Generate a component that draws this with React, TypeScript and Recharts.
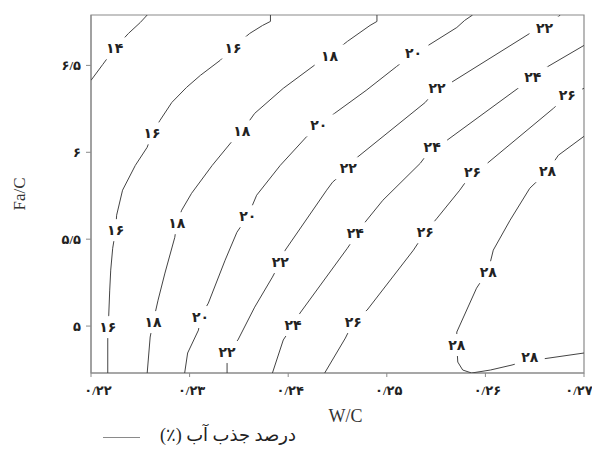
import React from 'react';
import { ScatterChart, Scatter, XAxis, YAxis, ReferenceArea, Legend } from 'recharts';

// contour lines of water absorption (%), points as [W/C, Fa/C]
const c14 = [[0.22, 6.414], [0.2212, 6.506], [0.2224, 6.598], [0.2238, 6.684], [0.225, 6.747], [0.2257, 6.79]];
const c16 = [
  [0.2382, 6.79], [0.2382, 6.753], [0.2374, 6.73], [0.2361, 6.684], [0.2344, 6.603], [0.2331, 6.529],
  [0.2311, 6.443], [0.2297, 6.374], [0.2282, 6.287], [0.227, 6.184], [0.2262, 6.109], [0.2257, 6.029],
  [0.2245, 5.925], [0.2232, 5.782], [0.2226, 5.638], [0.2225, 5.552], [0.2222, 5.448], [0.222, 5.322],
  [0.2219, 5.207], [0.2218, 5.063], [0.2217, 4.994], [0.2217, 4.92], [0.2217, 4.73],
];
const c18 = [
  [0.249, 6.79], [0.249, 6.753], [0.2483, 6.73], [0.246, 6.638], [0.2442, 6.557], [0.2429, 6.511],
  [0.2395, 6.368], [0.2366, 6.224], [0.2353, 6.121], [0.2343, 6.063], [0.2323, 5.925], [0.2302, 5.764],
  [0.2292, 5.667], [0.2287, 5.592], [0.2285, 5.511], [0.2275, 5.305], [0.2268, 5.149], [0.2263, 5.023],
  [0.226, 4.937], [0.2257, 4.73],
];
const c20 = [
  [0.2587, 6.79], [0.2579, 6.759], [0.2571, 6.718], [0.2542, 6.615], [0.2527, 6.569], [0.251, 6.494],
  [0.2479, 6.356], [0.2447, 6.224], [0.2431, 6.155], [0.2419, 6.092], [0.2392, 5.925], [0.2368, 5.753],
  [0.2359, 5.632], [0.2348, 5.54], [0.2336, 5.379], [0.2319, 5.132], [0.2311, 5.052], [0.2309, 4.977],
  [0.2298, 4.845], [0.2295, 4.73],
];
const c22 = [
  [0.2676, 6.79], [0.266, 6.718], [0.2645, 6.684], [0.2564, 6.397], [0.2551, 6.368], [0.2539, 6.287],
  [0.247, 5.971], [0.2461, 5.908], [0.2445, 5.828], [0.2439, 5.782], [0.2397, 5.437], [0.2392, 5.368],
  [0.2384, 5.282], [0.2366, 5.109], [0.2349, 4.92], [0.2338, 4.851], [0.2338, 4.787], [0.2338, 4.73],
];
const c24 = [
  [0.27, 6.615], [0.2662, 6.489], [0.2648, 6.431], [0.2633, 6.368], [0.2561, 6.069], [0.2546, 6.029],
  [0.2534, 5.937], [0.2496, 5.724], [0.2478, 5.598], [0.246, 5.448], [0.2412, 5.075], [0.2405, 5.006],
  [0.2395, 4.92], [0.2384, 4.73],
];
const c26 = [
  [0.27, 6.368], [0.2683, 6.328], [0.2669, 6.253], [0.2602, 5.937], [0.2587, 5.885], [0.2574, 5.782],
  [0.2551, 5.621], [0.2539, 5.54], [0.2527, 5.437], [0.248, 5.092], [0.2466, 5.023], [0.2458, 4.931],
  [0.2437, 4.73],
];
const c28 = [
  [0.27, 6.092], [0.2674, 5.983], [0.2663, 5.891], [0.2645, 5.793], [0.2625, 5.609], [0.2608, 5.437],
  [0.2603, 5.322], [0.2591, 5.218], [0.2571, 4.966], [0.2571, 4.885], [0.2572, 4.793], [0.2577, 4.747],
  [0.2586, 4.73], [0.2605, 4.747], [0.2627, 4.776], [0.2645, 4.805], [0.2657, 4.81], [0.27, 4.845],
];

// inline labels: [W/C, Fa/C, level]
const contourLabels = [
  [0.2224, 6.598, 14],
  [0.2344, 6.603, 16], [0.2262, 6.109, 16], [0.2225, 5.552, 16], [0.2217, 4.994, 16],
  [0.2442, 6.557, 18], [0.2353, 6.121, 18], [0.2287, 5.592, 18], [0.2263, 5.023, 18],
  [0.2527, 6.569, 20], [0.2431, 6.155, 20], [0.2359, 5.632, 20], [0.2311, 5.052, 20],
  [0.266, 6.718, 22], [0.2551, 6.368, 22], [0.2461, 5.908, 22], [0.2392, 5.368, 22], [0.2338, 4.851, 22],
  [0.2648, 6.431, 24], [0.2546, 6.029, 24], [0.2468, 5.534, 24], [0.2405, 5.006, 24],
  [0.2683, 6.328, 26], [0.2587, 5.885, 26], [0.2539, 5.54, 26], [0.2466, 5.023, 26],
  [0.2663, 5.891, 28], [0.2603, 5.31, 28], [0.2571, 4.891, 28], [0.2645, 4.822, 28],
];

const xTicks = [0.22, 0.23, 0.24, 0.25, 0.26, 0.27];
const yTicks = [5, 5.5, 6, 6.5];

const faDigits = '۰۱۲۳۴۵۶۷۸۹';
const toFa = (v: number | string) =>
  String(v).replace('.', '/').replace(/[0-9]/g, (d) => faDigits[Number(d)]);

const serif = '"Liberation Serif", "DejaVu Sans", serif';
const lineColor = '#444';
const axisColor = '#8a8a8a';

const NoDot = () => <g />;

function ContourLabel(props: any) {
  const { cx, cy, payload } = props;
  return (
    <g>
      <rect x={cx - 15} y={cy - 11} width={30} height={22} fill="#fff" />
      <text x={cx} y={cy} dy="0.36em" textAnchor="middle" fontSize={14} fontWeight="bold" fill="#222" fontFamily={serif}>
        {toFa(payload.level)}
      </text>
    </g>
  );
}

function XTick({ x, y, payload, index }: any) {
  // first label sits right of its tick, the last one is pulled in from the edge
  const shift = index === 0 ? 7 : index === xTicks.length - 1 ? -5 : 2;
  return (
    <text x={x + shift} y={y + 12} textAnchor="middle" fontSize={13} fontWeight="bold" fill="#222" fontFamily={serif}>
      {toFa(payload.value)}
    </text>
  );
}

function XLabel({ viewBox }: any) {
  return (
    <text x={viewBox.x + viewBox.width / 2 + 8} y={viewBox.y + 49} textAnchor="middle" fontSize={18} fill="#333" fontFamily={serif}>
      W/C
    </text>
  );
}

function YLabel({ viewBox }: any) {
  const cy = viewBox.y + viewBox.height / 2;
  return (
    <text x={11} y={cy} transform={`rotate(-90, 11, ${cy})`} textAnchor="middle" dominantBaseline="central" fontSize={17} fill="#333" fontFamily={serif}>
      Fa/C
    </text>
  );
}

function LegendBox() {
  return (
    <div style={{ position: 'relative', height: 31, width: 592 }}>
      <div style={{ position: 'absolute', left: 95, top: 14, width: 37, borderTop: `1px solid ${axisColor}` }} />
      <span dir="rtl" style={{ position: 'absolute', left: 152, top: 1, fontSize: 18, color: '#222', fontFamily: serif, whiteSpace: 'nowrap' }}>
        درصد جذب آب (٪)
      </span>
    </div>
  );
}

export default function App() {
  const series = [c14, c16, c18, c20, c22, c24, c26, c28].map((c) => c.map(([x, y]) => ({ x, y })));
  const labelData = contourLabels.map(([x, y, level]) => ({ x, y, level }));

  return (
    <ScatterChart width={592} height={446} margin={{ top: 7, right: 16, bottom: 0, left: 0 }} style={{ overflow: 'visible' }}>
      <XAxis
        type="number"
        dataKey="x"
        domain={[0.22, 0.27]}
        ticks={xTicks}
        interval={0}
        height={50}
        tickSize={4}
        tickMargin={6}
        stroke={axisColor}
        tick={XTick}
        label={XLabel}
        allowDataOverflow
      />
      <YAxis
        type="number"
        dataKey="y"
        domain={[4.73, 6.79]}
        ticks={yTicks}
        interval={0}
        tickFormatter={toFa}
        width={83}
        tickSize={5}
        tickMargin={5}
        stroke={axisColor}
        tick={{ fill: '#222', fontSize: 13, fontWeight: 'bold', fontFamily: serif }}
        label={YLabel}
        allowDataOverflow
      />
      <ReferenceArea x1={0.22} x2={0.27} y1={4.73} y2={6.79} fill="none" stroke={axisColor} strokeWidth={1.2} />
      {series.map((d, i) => (
        <Scatter
          key={i}
          data={d}
          line={{ stroke: lineColor, strokeWidth: 1 }}
          lineType="joint"
          shape={NoDot}
          isAnimationActive={false}
        />
      ))}
      <Scatter data={labelData} shape={ContourLabel} isAnimationActive={false} />
      <Legend verticalAlign="bottom" content={LegendBox} wrapperStyle={{ left: 0, width: 592 }} />
    </ScatterChart>
  );
}
